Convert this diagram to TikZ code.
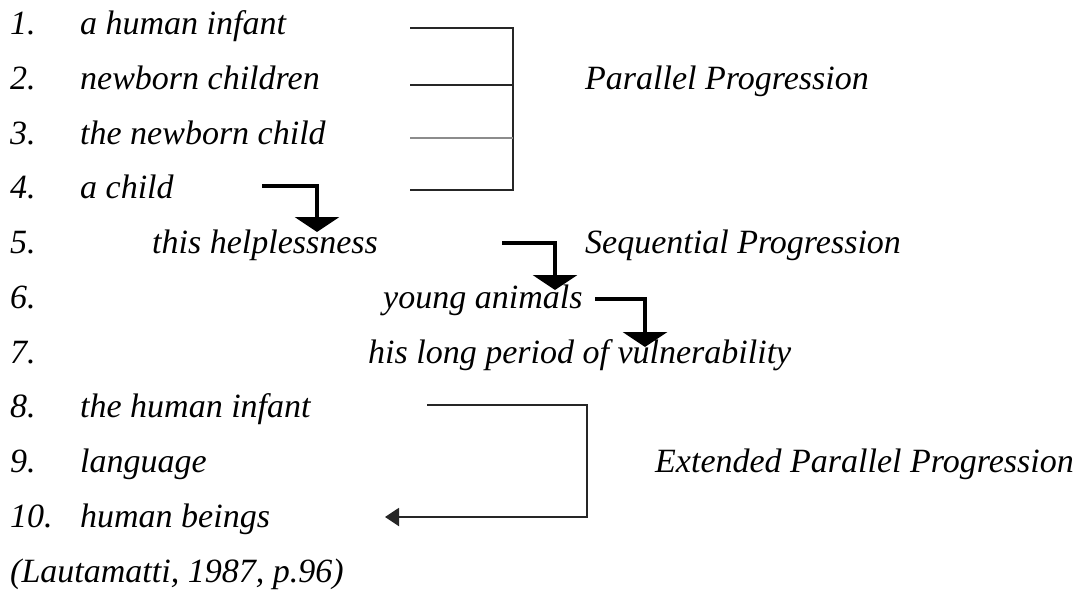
\documentclass[tikz,border=0pt]{standalone}
\usepackage{fontspec}
\setmainfont{Liberation Serif}
\usetikzlibrary{arrows.meta}
\begin{document}
\begin{tikzpicture}[x=1pt,y=-1pt,
  txt/.style={anchor=base west,inner sep=0pt,font=\fontsize{34}{39}\selectfont\itshape},
  brk/.style={line width=2pt,black!85},
  bigarrow/.style={line width=3.8pt,-{Triangle[width=44pt,length=15pt]}},
  thinarrow/.style={line width=2pt,black!85,-{Triangle[width=18pt,length=14pt]}}]
\useasboundingbox (0,0) rectangle (1082,590);
% numbers
\foreach \i/\y in {1/34,2/89,3/144,4/198,5/253,6/308,7/363,8/417,9/472,10/527}{
  \node[txt] (n\i) at (10,\y) {\i.};
}
\node[txt] (t1) at (80,34) {a human infant};
\node[txt] (t2) at (80,89) {newborn children};
\node[txt] (t3) at (80,144) {the newborn child};
\node[txt] (t4) at (80,198) {a child};
\node[txt] (t5) at (152,253) {this helplessness};
\node[txt] (t6) at (383,308) {young animals};
\node[txt] (t7) at (368,363) {his long period of vulnerability};
\node[txt] (t8) at (80,417) {the human infant};
\node[txt] (t9) at (80,472) {language};
\node[txt] (t10) at (80,527) {human beings};
\node[txt] (cite) at (10,582) {(Lautamatti, 1987, p.96)};
% labels
\node[txt] (pp) at (585,89) {Parallel Progression};
\node[txt] (sp) at (585,253) {Sequential Progression};
\node[txt] (epp) at (655,472) {Extended Parallel Progression};
% bracket
\coordinate (b1) at (410,28);
\coordinate (b2) at (410,85);
\coordinate (b3) at (410,138);
\coordinate (b4) at (410,190);
\coordinate (bv) at (513,28);
\draw[brk] (b1) -- (bv) -- (513,190) -- (b4);
\draw[brk] (b2) -- (513,85);
\draw[brk,black!45] (b3) -- (513,138);
% sequential arrows
\coordinate (s1) at (262,186);
\coordinate (s2) at (502,243);
\coordinate (s3) at (595,299);
\draw[bigarrow] (s1) -- (317,186) -- (317,232);
\draw[bigarrow] (s2) -- (555,243) -- (555,290);
\draw[bigarrow] (s3) -- (645,299) -- (645,347);
% extended arrow
\coordinate (e1) at (427,405);
\coordinate (e2) at (385,517);
\draw[thinarrow] (e1) -- (587,405) -- (587,517) -- (e2);
\end{tikzpicture}
\end{document}
